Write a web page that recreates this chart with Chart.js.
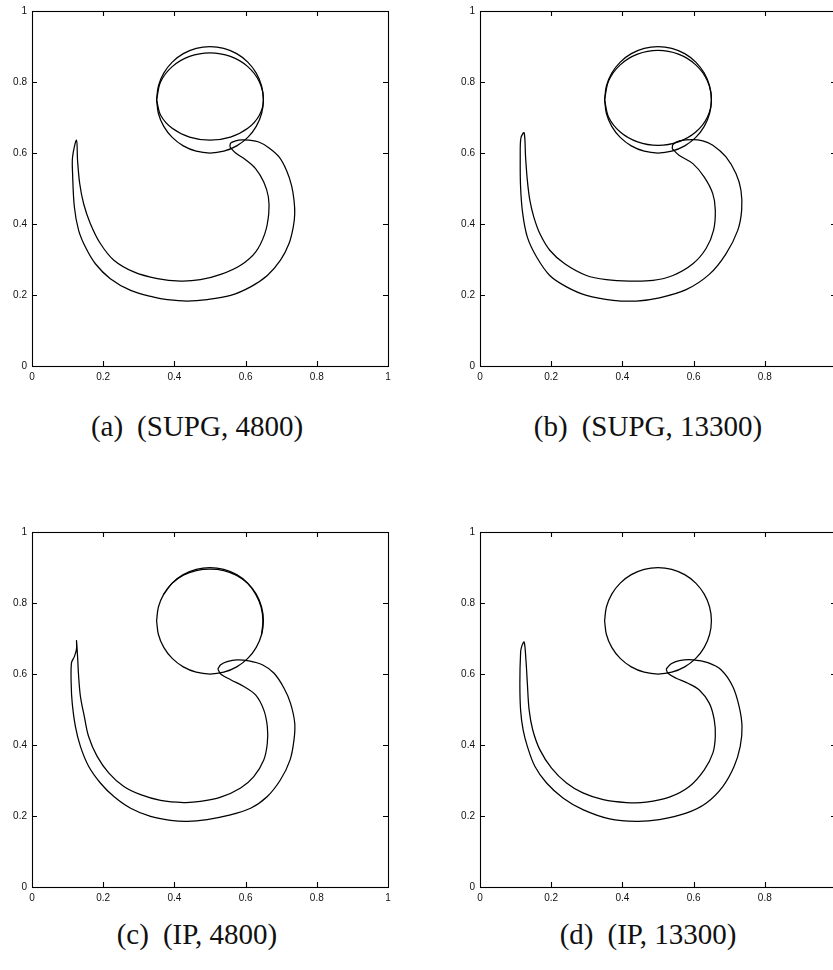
<!DOCTYPE html>
<html>
<head>
<meta charset="utf-8">
<script src="https://cdn.jsdelivr.net/npm/chart.js@4.4.0/dist/chart.umd.min.js"></script>
<style>
html, body { margin: 0; padding: 0; background: #fff; overflow: hidden; width: 833px; height: 970px; }
.panel { position: absolute; width: 400px; height: 395px; }
.cap { position: absolute; width: 394px; text-align: center; font-family: "Liberation Serif", serif; font-size: 29px; line-height: 29px; color: #111; white-space: nowrap; }
.cap span { margin-right: 14px; }
</style>
</head>
<body>
<div class="panel" style="left:0;top:0"><canvas id="supg4800"></canvas></div>
<div class="panel" style="left:448px;top:0"><canvas id="supg13300"></canvas></div>
<div class="panel" style="left:0;top:521px"><canvas id="ip4800"></canvas></div>
<div class="panel" style="left:448px;top:521px"><canvas id="ip13300"></canvas></div>
<div class="cap" style="left:0;top:412px"><span>(a)</span>(SUPG, 4800)</div>
<div class="cap" style="left:451px;top:412px"><span>(b)</span>(SUPG, 13300)</div>
<div class="cap" style="left:0;top:920px"><span>(c)</span>(IP, 4800)</div>
<div class="cap" style="left:451px;top:920px"><span>(d)</span>(IP, 13300)</div>
<script>
// axis ticks, same on every panel
const tickValues = [0, 0.2, 0.4, 0.6, 0.8, 1];
const tickLabels = ['0', '0.2', '0.4', '0.6', '0.8', '1'];

// exact interface: circle of radius 0.15 around (0.5, 0.75)
const circleX = [0.35, 0.3551, 0.3701, 0.3939, 0.425, 0.4612, 0.5, 0.5388, 0.575, 0.6061, 0.6299, 0.6449, 0.65,
  0.6449, 0.6299, 0.6061, 0.575, 0.5388, 0.5, 0.4612, 0.425, 0.3939, 0.3701, 0.3551, 0.35];
const circleY = [0.75, 0.7888, 0.825, 0.8561, 0.8799, 0.8949, 0.9, 0.8949, 0.8799, 0.8561, 0.825, 0.7888, 0.75,
  0.7112, 0.675, 0.6439, 0.6201, 0.6051, 0.6, 0.6051, 0.6201, 0.6439, 0.675, 0.7112, 0.75];

// (a) SUPG, 4800
const supgCoarseBubbleX = [0.35, 0.3614, 0.3939, 0.4426, 0.5, 0.5574, 0.6061, 0.6386, 0.65,
  0.6386, 0.6061, 0.5574, 0.5, 0.4426, 0.3939, 0.3614, 0.35];
const supgCoarseBubbleY = [0.75, 0.8006, 0.8433, 0.872, 0.882, 0.872, 0.8433, 0.8006, 0.75,
  0.7063, 0.6694, 0.6447, 0.636, 0.6447, 0.6694, 0.7063, 0.75];
const supgCoarseTailX = [0.556, 0.558, 0.572, 0.590, 0.609, 0.637, 0.665, 0.694, 0.715, 0.729, 0.736, 0.738, 0.734,
  0.722, 0.698, 0.661, 0.614, 0.558, 0.492, 0.436, 0.380, 0.342, 0.277, 0.220, 0.178, 0.150, 0.131, 0.119, 0.114,
  0.114, 0.125, 0.128, 0.134, 0.145, 0.164, 0.192, 0.230, 0.286, 0.352, 0.417, 0.473, 0.530, 0.586, 0.628, 0.654,
  0.665, 0.664, 0.651, 0.628, 0.600, 0.572, 0.556];
const supgCoarseTailY = [0.617, 0.628, 0.634, 0.637, 0.636, 0.631, 0.615, 0.589, 0.551, 0.509, 0.467, 0.429, 0.392,
  0.345, 0.298, 0.255, 0.223, 0.199, 0.187, 0.183, 0.187, 0.194, 0.213, 0.246, 0.288, 0.335, 0.382, 0.448, 0.542,
  0.589, 0.636, 0.579, 0.514, 0.457, 0.401, 0.345, 0.298, 0.265, 0.246, 0.239, 0.243, 0.258, 0.284, 0.321, 0.373,
  0.429, 0.476, 0.518, 0.556, 0.581, 0.600, 0.617];

// (b) SUPG, 13300
const supgFineBubbleX = [0.35, 0.3614, 0.3939, 0.4426, 0.5, 0.5574, 0.6061, 0.6386, 0.65,
  0.6386, 0.6061, 0.5574, 0.5, 0.4426, 0.3939, 0.3614, 0.35];
const supgFineBubbleY = [0.75, 0.8032, 0.8483, 0.8784, 0.889, 0.8784, 0.8483, 0.8032, 0.75,
  0.7008, 0.6592, 0.6314, 0.6216, 0.6314, 0.6592, 0.7008, 0.75];
const supgFineTailX = [0.540, 0.542, 0.560, 0.598, 0.626, 0.654, 0.691, 0.719, 0.733, 0.735, 0.724, 0.691, 0.644,
  0.579, 0.504, 0.439, 0.374, 0.299, 0.243, 0.196, 0.159, 0.133, 0.120, 0.114, 0.113, 0.115, 0.124, 0.128, 0.133,
  0.140, 0.151, 0.168, 0.196, 0.238, 0.299, 0.355, 0.420, 0.486, 0.542, 0.598, 0.635, 0.656, 0.661, 0.654, 0.630,
  0.598, 0.560, 0.540];
const supgFineTailY = [0.612, 0.624, 0.634, 0.638, 0.634, 0.622, 0.589, 0.542, 0.495, 0.439, 0.382, 0.316, 0.258,
  0.215, 0.192, 0.183, 0.185, 0.199, 0.223, 0.255, 0.307, 0.363, 0.429, 0.504, 0.589, 0.643, 0.657, 0.589, 0.523,
  0.467, 0.420, 0.373, 0.326, 0.288, 0.255, 0.243, 0.239, 0.241, 0.255, 0.288, 0.331, 0.382, 0.439, 0.485, 0.532,
  0.570, 0.593, 0.612];

// (c) IP, 4800
const ipCoarseArcX = [0.3701, 0.3939, 0.425, 0.4612, 0.5, 0.5388, 0.575, 0.6061, 0.6285, 0.6435, 0.6485, 0.6449];
const ipCoarseArcY = [0.825, 0.8561, 0.8785, 0.8915, 0.8955, 0.8915, 0.8775, 0.8545, 0.824, 0.7885, 0.75, 0.7112];
const ipCoarseTailX = [0.522, 0.530, 0.548, 0.576, 0.609, 0.647, 0.680, 0.708, 0.726, 0.738, 0.736, 0.725, 0.698,
  0.661, 0.614, 0.548, 0.492, 0.436, 0.389, 0.333, 0.277, 0.230, 0.192, 0.159, 0.136, 0.122, 0.113, 0.110, 0.111,
  0.119, 0.125, 0.125, 0.128, 0.131, 0.136, 0.147, 0.159, 0.183, 0.216, 0.258, 0.305, 0.361, 0.426, 0.473, 0.530,
  0.586, 0.623, 0.651, 0.661, 0.661, 0.651, 0.628, 0.595, 0.558, 0.530, 0.522];
const ipCoarseTailY = [0.614, 0.626, 0.635, 0.640, 0.637, 0.626, 0.602, 0.560, 0.518, 0.462, 0.415, 0.358, 0.302,
  0.255, 0.222, 0.201, 0.190, 0.185, 0.188, 0.199, 0.222, 0.255, 0.293, 0.340, 0.396, 0.452, 0.518, 0.574, 0.632,
  0.649, 0.670, 0.694, 0.649, 0.593, 0.537, 0.480, 0.424, 0.368, 0.321, 0.283, 0.260, 0.244, 0.238, 0.241, 0.253,
  0.279, 0.311, 0.358, 0.405, 0.452, 0.499, 0.541, 0.565, 0.584, 0.600, 0.614];

// (d) IP, 13300
const ipFineTailX = [0.523, 0.537, 0.560, 0.598, 0.640, 0.677, 0.710, 0.728, 0.736, 0.731, 0.714, 0.682, 0.635,
  0.579, 0.504, 0.439, 0.364, 0.289, 0.233, 0.187, 0.154, 0.133, 0.121, 0.114, 0.112, 0.114, 0.117, 0.124, 0.129,
  0.133, 0.138, 0.148, 0.168, 0.201, 0.243, 0.289, 0.346, 0.411, 0.467, 0.532, 0.588, 0.630, 0.654, 0.661, 0.658,
  0.644, 0.616, 0.584, 0.551, 0.528, 0.523];
const ipFineTailY = [0.614, 0.629, 0.638, 0.640, 0.632, 0.612, 0.565, 0.508, 0.452, 0.396, 0.340, 0.283, 0.236,
  0.208, 0.190, 0.185, 0.192, 0.218, 0.251, 0.293, 0.340, 0.396, 0.443, 0.499, 0.574, 0.659, 0.677, 0.690, 0.640,
  0.574, 0.499, 0.443, 0.387, 0.335, 0.293, 0.265, 0.246, 0.238, 0.239, 0.253, 0.283, 0.330, 0.377, 0.424, 0.471,
  0.518, 0.555, 0.574, 0.588, 0.602, 0.614];

function curve(xs, ys) {
  return {
    data: xs.map((x, i) => ({ x: x, y: ys[i] })),
    showLine: true,
    borderColor: '#000',
    borderWidth: 1.25,
    pointRadius: 0,
    tension: 0.34,
    fill: false
  };
}

// gnuplot-like frame with inward ticks on all four sides
const frameTicks = {
  id: 'frameTicks',
  afterDatasetsDraw(chart) {
    const { ctx, chartArea: a, scales } = chart;
    ctx.save();
    ctx.strokeStyle = '#000';
    ctx.lineWidth = 1.1;
    ctx.strokeRect(a.left + 0.5, a.top + 0.5, a.right - a.left, a.bottom - a.top);
    ctx.beginPath();
    tickValues.slice(1, -1).forEach(v => {
      const px = Math.round(scales.x.getPixelForValue(v)) + 0.5;
      const py = Math.round(scales.y.getPixelForValue(v)) + 0.5;
      ctx.moveTo(px, a.bottom); ctx.lineTo(px, a.bottom - 5);
      ctx.moveTo(px, a.top); ctx.lineTo(px, a.top + 5);
      ctx.moveTo(a.left, py); ctx.lineTo(a.left + 5, py);
      ctx.moveTo(a.right, py); ctx.lineTo(a.right - 5, py);
    });
    ctx.stroke();
    ctx.restore();
  }
};

function axis(extra) {
  return Object.assign({
    type: 'linear',
    min: 0,
    max: 1,
    afterBuildTicks: s => { s.ticks = tickValues.map(v => ({ value: v })); },
    ticks: {
      padding: 5,
      color: '#111',
      font: { family: 'Liberation Sans', size: 10 },
      callback: (v, i) => tickLabels[i]
    },
    grid: { display: true, drawOnChartArea: false, drawTicks: false },
    border: { display: false }
  }, extra);
}

function panel(id, curves) {
  new Chart(document.getElementById(id), {
    type: 'scatter',
    data: { datasets: curves },
    options: {
      responsive: true,
      maintainAspectRatio: false,
      animation: false,
      layout: { padding: { top: 11, right: 12, left: 0, bottom: 0 } },
      plugins: { legend: { display: false }, tooltip: { enabled: false } },
      scales: {
        x: axis({ position: 'bottom', afterFit: s => { s.height = 29; } }),
        y: axis({ position: 'left', afterFit: s => { s.width = 32; } })
      }
    },
    plugins: [frameTicks]
  });
}

panel('supg4800', [
  curve(circleX, circleY),
  curve(supgCoarseBubbleX, supgCoarseBubbleY),
  curve(supgCoarseTailX, supgCoarseTailY)
]);
panel('supg13300', [
  curve(circleX, circleY),
  curve(supgFineBubbleX, supgFineBubbleY),
  curve(supgFineTailX, supgFineTailY)
]);
panel('ip4800', [
  curve(circleX, circleY),
  curve(ipCoarseArcX, ipCoarseArcY),
  curve(ipCoarseTailX, ipCoarseTailY)
]);
panel('ip13300', [
  curve(circleX, circleY),
  curve(ipFineTailX, ipFineTailY)
]);
</script>
</body>
</html>
